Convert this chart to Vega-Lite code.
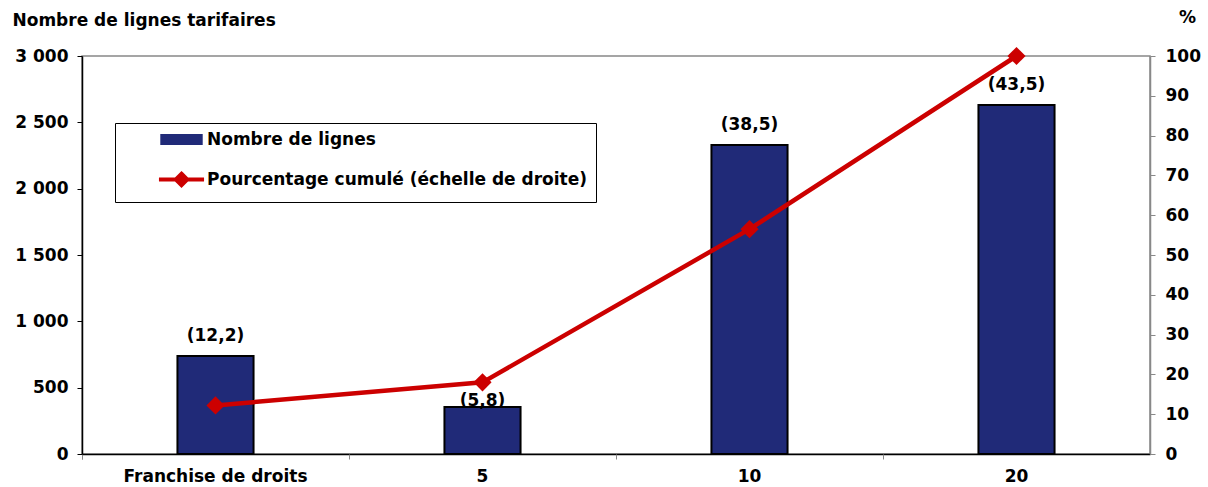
{
  "$schema": "https://vega.github.io/schema/vega-lite/v6.json",
  "width": 1068,
  "height": 398,
  "autosize": {"type": "none"},
  "padding": {"left": 82, "top": 56, "right": 58, "bottom": 33},
  "background": "white",
  "data": {
    "values": [
      {"cat": "Franchise de droits", "n": 739, "pct": 12.2, "label": "(12,2)"},
      {"cat": "5", "n": 354, "pct": 18.0, "label": "(5,8)"},
      {"cat": "10", "n": 2329, "pct": 56.5, "label": "(38,5)"},
      {"cat": "20", "n": 2631, "pct": 100, "label": "(43,5)"}
    ]
  },
  "layer": [
    {
      "layer": [
        {
          "mark": {"type": "bar", "width": {"band": 0.285}, "stroke": "black", "strokeWidth": 2},
          "encoding": {
            "x": {
              "field": "cat", "type": "nominal", "sort": null,
              "scale": {"paddingInner": 0, "paddingOuter": 0},
              "axis": {"orient": "bottom", "title": null, "labelAngle": 0, "labelLimit": 0, "ticks": false, "tickSize": 0, "labelPadding": 14, "domainColor": "black", "domainWidth": 1.5}
            },
            "y": {
              "field": "n", "type": "quantitative",
              "scale": {"domain": [0, 3000]},
              "axis": {
                "orient": "left",
                "values": [0, 500, 1000, 1500, 2000, 2500, 3000],
                "labelExpr": "replace(format(datum.value, ','), ',', ' ')",
                "grid": false,
                "domainColor": "black", "domainWidth": 1.5,
                "tickColor": "black", "tickSize": 5,
                "labelPadding": 9,
                "title": "Nombre de lignes tarifaires",
                "titleAngle": 0, "titleAlign": "left", "titleBaseline": "alphabetic",
                "titleX": -70, "titleY": -31
              }
            },
            "color": {
              "datum": "Nombre de lignes", "type": "nominal",
              "scale": {"domain": ["Nombre de lignes", "Pourcentage cumulé (échelle de droite)"], "range": ["#202A78", "#CC0000"]},
              "legend": {
                "orient": "none", "legendX": 33, "legendY": 67,
                "title": null,
                "strokeColor": "black", "fillColor": "white",
                "padding": 8,
                "symbolSize": 484,
                "symbolOffset": 50,
                "labelOffset": 17,
                "rowPadding": 17,
                "labelLimit": 0,
                "labelFont": "DejaVu Sans", "labelFontWeight": "bold", "labelFontSize": 17, "labelColor": "black",
                "encoding": {
                  "symbols": {
                    "shape": {"value": {"expr": "datum.value === 'Nombre de lignes' ? 'M-1.86,-0.43H1.86V0.43H-1.86Z' : 'M-2.05,0H2.05M0,-0.52L0.52,0L0,0.52L-0.52,0Z'"}},
                    "fill": {"value": {"expr": "datum.value === 'Nombre de lignes' ? '#202A78' : '#CC0000'"}},
                    "stroke": {"value": {"expr": "datum.value === 'Nombre de lignes' ? 'black' : '#CC0000'"}},
                    "strokeWidth": {"value": {"expr": "datum.value === 'Nombre de lignes' ? 1.5 : 4"}},
                    "opacity": {"value": 1}
                  }
                }
              }
            }
          }
        },
        {
          "mark": {"type": "text", "dy": {"expr": "datum.cat === '5' ? -6 : -20"}, "font": "DejaVu Sans", "fontWeight": "bold", "fontSize": 17, "color": "black", "baseline": "middle"},
          "encoding": {
            "x": {"field": "cat", "type": "nominal", "sort": null},
            "y": {"field": "n", "type": "quantitative", "scale": {"domain": [0, 3000]}},
            "text": {"field": "label"}
          }
        }
      ]
    },
    {
      "mark": {"type": "line", "strokeWidth": 4.5, "point": {"shape": "diamond", "size": 330, "filled": true, "opacity": 1}},
      "encoding": {
        "x": {
          "field": "cat", "type": "nominal", "sort": null,
          "axis": {"orient": "bottom", "title": null, "labels": false, "domain": false, "ticks": true, "bandPosition": 0, "tickExtra": true, "tickSize": 5, "tickColor": "#888"}
        },
        "y": {
          "field": "pct", "type": "quantitative",
          "scale": {"domain": [0, 100]},
          "axis": {
            "orient": "right",
            "values": [0, 10, 20, 30, 40, 50, 60, 70, 80, 90, 100],
            "grid": false,
            "domainColor": "#888", "domainWidth": 1.5,
            "tickColor": "#888", "tickSize": 5,
            "labelPadding": 10,
            "title": "%",
            "titleAngle": 0, "titleAlign": "center", "titleBaseline": "alphabetic",
            "titleX": 37, "titleY": -34
          }
        },
        "color": {"datum": "Pourcentage cumulé (échelle de droite)", "type": "nominal"}
      }
    }
  ],
  "resolve": {"scale": {"y": "independent"}, "axis": {"x": "independent"}},
  "config": {
    "view": {"stroke": "#888", "strokeWidth": 1.5},
    "axis": {
      "labelFont": "DejaVu Sans", "labelFontWeight": "bold", "labelFontSize": 17, "labelColor": "black",
      "titleFont": "DejaVu Sans", "titleFontWeight": "bold", "titleFontSize": 17, "titleColor": "black"
    }
  }
}
